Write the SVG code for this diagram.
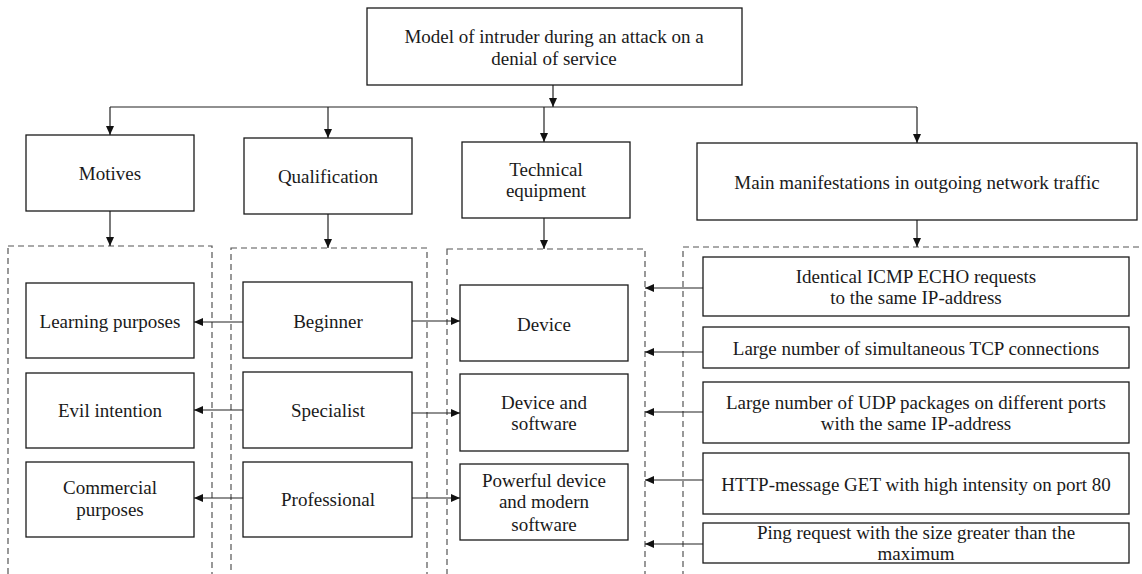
<svg xmlns="http://www.w3.org/2000/svg" width="1142" height="574" viewBox="0 0 1142 574" font-family="'Liberation Serif', 'Times New Roman', Times, serif">
<style>
.box{fill:#fff;stroke:#1a1a1a;stroke-width:1.3}
.col{fill:none;stroke:#555;stroke-width:1.2;stroke-dasharray:6 4}
.ln{fill:none;stroke:#222;stroke-width:1.2}
text{font-family:'Liberation Serif', 'Times New Roman', Times, serif;font-size:19px;fill:#1a1a1a;text-anchor:middle}
</style>
<defs>
<marker id="ah" markerUnits="userSpaceOnUse" markerWidth="9" markerHeight="8" refX="9" refY="4" orient="auto">
<path d="M0,0 L9,4 L0,8 z" fill="#111"/>
</marker>
</defs>
<rect width="1142" height="574" fill="#fff"/>
<g id="columns">
<rect class="col" x="8" y="246" width="204" height="340"/>
<rect class="col" x="231" y="248" width="196" height="340"/>
<rect class="col" x="447" y="249" width="198" height="340"/>
<rect class="col" x="683" y="247" width="470" height="340"/>
</g>
<g id="connectors">
<line class="ln" x1="553" y1="85" x2="553" y2="107" marker-end="url(#ah)"/>
<line class="ln" x1="110" y1="107" x2="917" y2="107"/>
<line class="ln" x1="110" y1="107" x2="110" y2="135" marker-end="url(#ah)"/>
<line class="ln" x1="328" y1="107" x2="328" y2="138" marker-end="url(#ah)"/>
<line class="ln" x1="544" y1="107" x2="544" y2="142" marker-end="url(#ah)"/>
<line class="ln" x1="917" y1="107" x2="917" y2="143" marker-end="url(#ah)"/>
<line class="ln" x1="110" y1="211" x2="110" y2="246" marker-end="url(#ah)"/>
<line class="ln" x1="328" y1="214" x2="328" y2="248" marker-end="url(#ah)"/>
<line class="ln" x1="544" y1="218" x2="544" y2="249" marker-end="url(#ah)"/>
<line class="ln" x1="917" y1="220" x2="917" y2="247" marker-end="url(#ah)"/>
<line class="ln" x1="243" y1="322" x2="194" y2="322" marker-end="url(#ah)"/>
<line class="ln" x1="243" y1="410" x2="194" y2="410" marker-end="url(#ah)"/>
<line class="ln" x1="243" y1="498" x2="194" y2="498" marker-end="url(#ah)"/>
<line class="ln" x1="412" y1="321" x2="460" y2="321" marker-end="url(#ah)"/>
<line class="ln" x1="412" y1="413" x2="460" y2="413" marker-end="url(#ah)"/>
<line class="ln" x1="412" y1="498" x2="460" y2="498" marker-end="url(#ah)"/>
<line class="ln" x1="703" y1="288" x2="645" y2="288" marker-end="url(#ah)"/>
<line class="ln" x1="703" y1="352" x2="645" y2="352" marker-end="url(#ah)"/>
<line class="ln" x1="703" y1="412" x2="645" y2="412" marker-end="url(#ah)"/>
<line class="ln" x1="703" y1="480" x2="645" y2="480" marker-end="url(#ah)"/>
<line class="ln" x1="703" y1="544" x2="645" y2="544" marker-end="url(#ah)"/>
</g>
<g id="root"><rect class="box" x="367" y="8" width="375" height="77"/><text x="554" y="43">Model of intruder during an attack on a</text><text x="554" y="65">denial of service</text></g>
<g id="motives"><rect class="box" x="26" y="135" width="168" height="76"/><text x="110" y="180">Motives</text></g>
<g id="qualification"><rect class="box" x="244" y="138" width="168" height="76"/><text x="328" y="183">Qualification</text></g>
<g id="technical"><rect class="box" x="462" y="142" width="168" height="76"/><text x="546" y="176">Technical</text><text x="546" y="197">equipment</text></g>
<g id="manifestations"><rect class="box" x="697" y="143" width="440" height="77"/><text x="917" y="189">Main manifestations in outgoing network traffic</text></g>
<g id="learning"><rect class="box" x="26" y="283" width="168" height="75"/><text x="110" y="328">Learning purposes</text></g>
<g id="evil"><rect class="box" x="26" y="373" width="168" height="75"/><text x="110" y="417">Evil intention</text></g>
<g id="commercial"><rect class="box" x="26" y="462" width="168" height="75"/><text x="110" y="494">Commercial</text><text x="110" y="516">purposes</text></g>
<g id="beginner"><rect class="box" x="243" y="282" width="169" height="76"/><text x="328" y="328">Beginner</text></g>
<g id="specialist"><rect class="box" x="243" y="372" width="169" height="76"/><text x="328" y="417">Specialist</text></g>
<g id="professional"><rect class="box" x="243" y="462" width="169" height="75"/><text x="328" y="506">Professional</text></g>
<g id="device"><rect class="box" x="460" y="285" width="168" height="76"/><text x="544" y="331">Device</text></g>
<g id="device-software"><rect class="box" x="460" y="374" width="168" height="77"/><text x="544" y="409">Device and</text><text x="544" y="430">software</text></g>
<g id="powerful"><rect class="box" x="460" y="464" width="168" height="76"/><text x="544" y="487">Powerful device</text><text x="544" y="508">and modern</text><text x="544" y="531">software</text></g>
<g id="icmp"><rect class="box" x="703" y="257" width="426" height="59"/><text x="916" y="283">Identical ICMP ECHO requests</text><text x="916" y="304">to the same IP-address</text></g>
<g id="tcp"><rect class="box" x="703" y="327" width="426" height="41"/><text x="916" y="355">Large number of simultaneous TCP connections</text></g>
<g id="udp"><rect class="box" x="703" y="382" width="426" height="61"/><text x="916" y="409">Large number of UDP packages on different ports</text><text x="916" y="430">with the same IP-address</text></g>
<g id="http"><rect class="box" x="703" y="453" width="426" height="61"/><text x="916" y="491">HTTP-message GET with high intensity on port 80</text></g>
<g id="ping"><rect class="box" x="703" y="523" width="426" height="40"/><text x="916" y="539">Ping request with the size greater than the</text><text x="916" y="560">maximum</text></g>
</svg>
